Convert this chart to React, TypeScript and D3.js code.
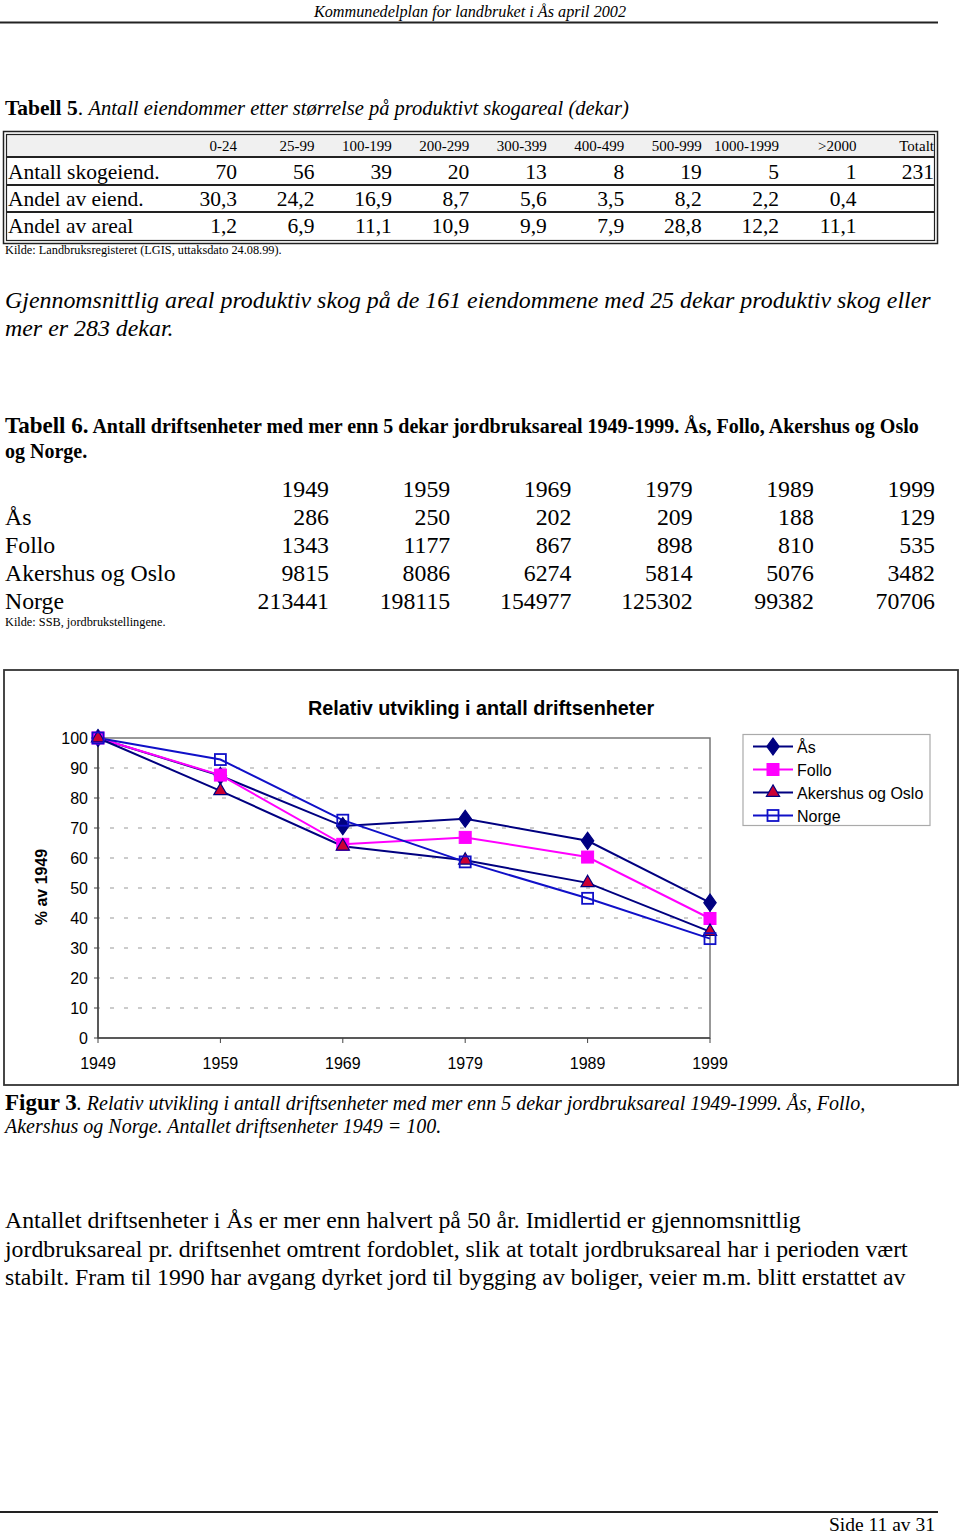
import React from "react";
import * as d3 from "d3";

const sizeClasses = ["0-24", "25-99", "100-199", "200-299", "300-399", "400-499", "500-999", "1000-1999", ">2000", "Totalt"];
const antallSkog = [70, 56, 39, 20, 13, 8, 19, 5, 1, 231];
const andelEiend = [30.3, 24.2, 16.9, 8.7, 5.6, 3.5, 8.2, 2.2, 0.4];
const andelAreal = [1.2, 6.9, 11.1, 10.9, 9.9, 7.9, 28.8, 12.2, 11.1];

const years = [1949, 1959, 1969, 1979, 1989, 1999];
const regions = ["Ås", "Follo", "Akershus og Oslo", "Norge"];
const asValues = [286, 250, 202, 209, 188, 129];
const folloValues = [1343, 1177, 867, 898, 810, 535];
const akershusValues = [9815, 8086, 6274, 5814, 5076, 3482];
const norgeValues = [213441, 198115, 154977, 125302, 99382, 70706];
const yTicks = [0, 10, 20, 30, 40, 50, 60, 70, 80, 90, 100];

const SERIF = "'Liberation Serif', 'Times New Roman', serif";
const SANS = "'Liberation Sans', Arial, sans-serif";

const fmtComma = (v: number) => d3.format(".1f")(v).replace(".", ",");

type Series = { name: string; values: number[]; line: string; fill: string; stroke: string; marker: string };

const seriesList: Series[] = [
  { name: regions[0], values: asValues, line: "#000080", fill: "#000080", stroke: "#000080", marker: "diamond" },
  { name: regions[1], values: folloValues, line: "#ff00ff", fill: "#ff00ff", stroke: "#ff00ff", marker: "square" },
  { name: regions[2], values: akershusValues, line: "#000080", fill: "#cc0033", stroke: "#000080", marker: "triangle" },
  { name: regions[3], values: norgeValues, line: "#1010c8", fill: "none", stroke: "#1010c8", marker: "opensquare" },
];

function Marker({ s, x, y }: { s: Series; x: number; y: number }) {
  if (s.marker === "diamond") {
    const sym = d3.symbol(d3.symbolDiamond, 85)();
    return <path d={sym || ""} transform={`translate(${x},${y}) scale(1.25,1)`} fill={s.fill} stroke={s.stroke} strokeWidth={1} />;
  }
  if (s.marker === "square") {
    return <rect x={x - 6} y={y - 6} width={12} height={12} fill={s.fill} stroke={s.stroke} />;
  }
  if (s.marker === "triangle") {
    const sym = d3.symbol(d3.symbolTriangle, 75)();
    return <path d={sym || ""} transform={`translate(${x},${y})`} fill={s.fill} stroke={s.stroke} strokeWidth={1.2} />;
  }
  return <rect x={x - 5.5} y={y - 5.5} width={11} height={11} fill="none" stroke={s.stroke} strokeWidth={1.8} />;
}

export default function App() {
  // Table 5 columns
  const c5 = d3.scalePoint<string>().domain(sizeClasses).range([238, 935]);
  const rowsT5 = [
    { label: "Antall skogeiend.", vals: antallSkog.map(String) },
    { label: "Andel av eiend.", vals: andelEiend.map(fmtComma) },
    { label: "Andel av areal", vals: andelAreal.map(fmtComma) },
  ];
  const t5RowY = [179, 206, 233];

  // Table 6
  const c6 = d3.scalePoint<number>().domain(years).range([329, 935]);
  const t6Rows = [asValues, folloValues, akershusValues, norgeValues];
  const t6RowY = [525, 553, 581, 609];

  // Chart
  const x = d3.scalePoint<number>().domain(years).range([98, 710]);
  const y = d3.scaleLinear().domain([0, 100]).range([1038, 738]);
  const line = d3
    .line<[number, number]>()
    .x((d) => x(d[0]) as number)
    .y((d) => y(d[1]));
  const rel = (vals: number[]) => vals.map((v) => (v / vals[0]) * 100);

  return (
    <div style={{ position: "absolute", left: 0, top: 0 }}>
      <svg width={960} height={1534} style={{ display: "block", background: "#fff" }}>
        {/* Header */}
        <text x={470} y={17} textAnchor="middle" fontFamily={SERIF} fontStyle="italic" fontSize={16.2}>
          Kommunedelplan for landbruket i Ås april 2002
        </text>
        <line x1={0} x2={938} y1={22.5} y2={22.5} stroke="#222" strokeWidth={2.2} />

        {/* Tabell 5 */}
        <text x={5} y={115} fontFamily={SERIF} fontSize={21.5}>
          <tspan fontWeight="bold">Tabell 5</tspan>
          <tspan>. </tspan>
          <tspan fontStyle="italic" fontSize={20.5}>Antall eiendommer etter størrelse på produktivt skogareal (dekar)</tspan>
        </text>
        <rect x={7} y={135} width={927} height={22} fill="#f0f0f0" />
        <rect x={3.5} y={131.5} width={934} height={112} fill="none" stroke="#222" strokeWidth={1.5} />
        <rect x={6.5} y={134.5} width={928} height={106} fill="none" stroke="#222" strokeWidth={1.2} />
        {[157, 185, 212].map((yy) => (
          <line key={yy} x1={6} x2={935} y1={yy} y2={yy} stroke="#222" strokeWidth={1.8} />
        ))}
        {sizeClasses.map((c) => (
          <text key={c} x={(c5(c) as number) - 1} y={151} textAnchor="end" fontFamily={SERIF} fontSize={15}>
            {c}
          </text>
        ))}
        {rowsT5.map((r, i) => (
          <g key={r.label}>
            <text x={8} y={t5RowY[i]} fontFamily={SERIF} fontSize={21.5}>
              {r.label}
            </text>
            {r.vals.map((v, j) => (
              <text key={j} x={(c5(sizeClasses[j]) as number) - 1} y={t5RowY[i]} textAnchor="end" fontFamily={SERIF} fontSize={21.5}>
                {v}
              </text>
            ))}
          </g>
        ))}
        <text x={5} y={254} fontFamily={SERIF} fontSize={12.3}>
          Kilde: Landbruksregisteret (LGIS, uttaksdato 24.08.99).
        </text>

        <text x={5} y={308} fontFamily={SERIF} fontStyle="italic" fontSize={23.9}>
          Gjennomsnittlig areal produktiv skog på de 161 eiendommene med 25 dekar produktiv skog eller
        </text>
        <text x={5} y={336} fontFamily={SERIF} fontStyle="italic" fontSize={23.9}>
          mer er 283 dekar.
        </text>

        {/* Tabell 6 */}
        <text x={5} y={433} fontFamily={SERIF} fontWeight="bold" fontSize={20}>
          <tspan fontSize={23}>Tabell 6.</tspan>
          <tspan> Antall driftsenheter med mer enn 5 dekar jordbruksareal 1949-1999. Ås, Follo, Akershus og Oslo</tspan>
        </text>
        <text x={5} y={458} fontFamily={SERIF} fontWeight="bold" fontSize={20}>
          og Norge.
        </text>
        {years.map((yr) => (
          <text key={yr} x={c6(yr) as number} y={497} textAnchor="end" fontFamily={SERIF} fontSize={23.8}>
            {yr}
          </text>
        ))}
        {t6Rows.map((vals, i) => (
          <g key={regions[i]}>
            <text x={5} y={t6RowY[i]} fontFamily={SERIF} fontSize={23.8}>
              {regions[i]}
            </text>
            {vals.map((v, j) => (
              <text key={j} x={c6(years[j]) as number} y={t6RowY[i]} textAnchor="end" fontFamily={SERIF} fontSize={23.8}>
                {v}
              </text>
            ))}
          </g>
        ))}
        <text x={5} y={626} fontFamily={SERIF} fontSize={12.3}>
          Kilde: SSB, jordbrukstellingene.
        </text>

        {/* Chart frame */}
        <rect x={4} y={670} width={954} height={415} fill="#fff" stroke="#333" strokeWidth={1.8} />
        <text x={481} y={715} textAnchor="middle" fontFamily={SANS} fontWeight="bold" fontSize={19.8}>
          Relativ utvikling i antall driftsenheter
        </text>

        {/* gridlines */}
        {yTicks
          .filter((t) => t > 0 && t < 100)
          .map((t) => (
            <line key={t} x1={x(1949)} x2={x(1999)} y1={y(t)} y2={y(t)} stroke="#999" strokeWidth={1} strokeDasharray="4,10" strokeDashoffset={-12} />
          ))}
        {/* plot border */}
        <rect x={x(1949)} y={y(100)} width={(x(1999) as number) - (x(1949) as number)} height={y(0) - y(100)} fill="none" stroke="#777" strokeWidth={1.5} />
        <line x1={x(1949)} x2={x(1949)} y1={y(100)} y2={y(0)} stroke="#444" strokeWidth={1.5} />
        <line x1={x(1949)} x2={x(1999)} y1={y(0)} y2={y(0)} stroke="#444" strokeWidth={1.5} />
        {yTicks.map((t) => (
          <g key={t}>
            <line x1={(x(1949) as number) - 4} x2={x(1949)} y1={y(t)} y2={y(t)} stroke="#444" />
            <text x={88} y={y(t) + 6} textAnchor="end" fontFamily={SANS} fontSize={16}>
              {t}
            </text>
          </g>
        ))}
        {years.map((yr) => (
          <g key={yr}>
            <line x1={x(yr)} x2={x(yr)} y1={y(0)} y2={y(0) + 5} stroke="#444" />
            <text x={x(yr)} y={1069} textAnchor="middle" fontFamily={SANS} fontSize={16}>
              {yr}
            </text>
          </g>
        ))}
        <text transform={`translate(47,887) rotate(-90)`} textAnchor="middle" fontFamily={SANS} fontWeight="bold" fontSize={16}>
          % av 1949
        </text>

        {/* series lines */}
        {seriesList.map((s) => {
          const r = rel(s.values);
          const pts: [number, number][] = years.map((yr, i) => [yr, r[i]]);
          return <path key={s.name} d={line(pts) || ""} fill="none" stroke={s.line} strokeWidth={2} />;
        })}
        {seriesList.map((s) => {
          const r = rel(s.values);
          return (
            <g key={s.name + "m"}>
              {years.map((yr, i) => (
                <Marker key={yr} s={s} x={x(yr) as number} y={y(r[i])} />
              ))}
            </g>
          );
        })}

        {/* legend */}
        <rect x={743} y={734.5} width={187} height={91} fill="#fff" stroke="#aaa" strokeWidth={1.2} />
        {seriesList.map((s, i) => {
          const ly = 746.5 + i * 23;
          return (
            <g key={s.name + "l"}>
              <line x1={753} x2={793} y1={ly} y2={ly} stroke={s.line} strokeWidth={2} />
              <Marker s={s} x={773} y={ly} />
              <text x={797} y={ly + 6.5} fontFamily={SANS} fontSize={16}>
                {s.name}
              </text>
            </g>
          );
        })}

        {/* Figure caption */}
        <text x={5} y={1110} fontFamily={SERIF} fontSize={23}>
          <tspan fontWeight="bold">Figur 3</tspan>
          <tspan fontStyle="italic" fontSize={20}>. Relativ utvikling i antall driftsenheter med mer enn 5 dekar jordbruksareal 1949-1999. Ås, Follo,</tspan>
        </text>
        <text x={5} y={1133} fontFamily={SERIF} fontStyle="italic" fontSize={20}>
          Akershus og Norge. Antallet driftsenheter 1949 = 100.
        </text>

        {/* Body text */}
        {[
          "Antallet driftsenheter i Ås er mer enn halvert på 50 år. Imidlertid er gjennomsnittlig",
          "jordbruksareal pr. driftsenhet omtrent fordoblet, slik at totalt jordbruksareal har i perioden vært",
          "stabilt. Fram til 1990 har avgang dyrket jord til bygging av boliger, veier m.m. blitt erstattet av",
        ].map((t, i) => (
          <text key={i} x={5} y={1228 + i * 28.5} fontFamily={SERIF} fontSize={23.8}>
            {t}
          </text>
        ))}

        {/* Footer */}
        <line x1={0} x2={938} y1={1512} y2={1512} stroke="#222" strokeWidth={2} />
        <text x={935} y={1531} textAnchor="end" fontFamily={SERIF} fontSize={19.5}>
          Side 11 av 31
        </text>
      </svg>
    </div>
  );
}
